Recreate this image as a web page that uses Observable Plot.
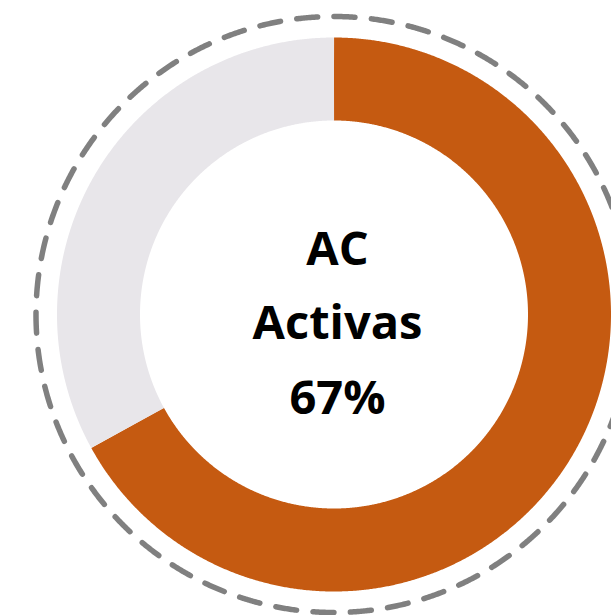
<!DOCTYPE html>
<html><head><meta charset="utf-8">
<script src="https://cdn.jsdelivr.net/npm/d3@7"></script>
<script src="https://cdn.jsdelivr.net/npm/@observablehq/plot@0.6"></script>
<style>html,body{margin:0;padding:0;background:#fff;overflow:hidden}</style>
</head><body><div id="chart"></div>
<script>
// --- data ---
const categories = ["Activas", "Inactivas"];
const values = [67, 33];
const colors = ["#C55A11", "#E8E6EA"];
const centerLines = ["AC", "Activas", "67%"];

// --- geometry (pixel units) ---
const W = 611, H = 615, cx = 333.5, cy = 314;
const rOuter = 277, rInner = 194, rDash = 298;
const rMid = (rOuter + rInner) / 2, ringWidth = rOuter - rInner;
const total = d3.sum(values);

let acc = 0;
const arcPts = [];
categories.forEach((c, i) => {
  const a0 = acc / total * 2 * Math.PI;
  acc += values[i];
  const a1 = acc / total * 2 * Math.PI;
  const n = Math.max(2, Math.ceil((a1 - a0) / (Math.PI / 720)));
  for (let k = 0; k <= n; k++) {
    const a = a0 + (a1 - a0) * k / n;
    arcPts.push({cat: c, x: rMid * Math.sin(a), y: rMid * Math.cos(a)});
  }
});
const circlePts = d3.range(0, 1441).map(k => {
  const a = k / 1440 * 2 * Math.PI;
  return {x: rDash * Math.sin(a), y: rDash * Math.cos(a)};
});
const circ = 2 * Math.PI * rDash;
const period = circ / 50;

const chart = Plot.plot({
  width: W, height: H,
  margin: 0,
  x: {domain: [-cx, W - cx], axis: null},
  y: {domain: [cy - H, cy], axis: null},
  color: {domain: categories, range: colors},
  style: {background: "#fff"},
  marks: [
    Plot.line(circlePts, {x: "x", y: "y", stroke: "#808080", strokeWidth: 5.5,
      strokeDasharray: `21,${(period - 21).toFixed(2)}`, curve: "linear"}),
    Plot.line(arcPts, {x: "x", y: "y", z: "cat", stroke: "cat", strokeWidth: ringWidth,
      strokeLinecap: "butt", strokeLinejoin: "round", curve: "linear"}),
    Plot.text([centerLines.join("\n")], {x: () => 0, y: () => 0, text: d => d,
      fontFamily: "Open Sans", fontWeight: "bold", fontSize: 47, lineHeight: 1.58,
      fill: "#000", dx: 3.5, dy: 1, textAnchor: "middle", lineAnchor: "middle"})
  ]
});
document.getElementById("chart").appendChild(chart);
</script>
</body></html>
